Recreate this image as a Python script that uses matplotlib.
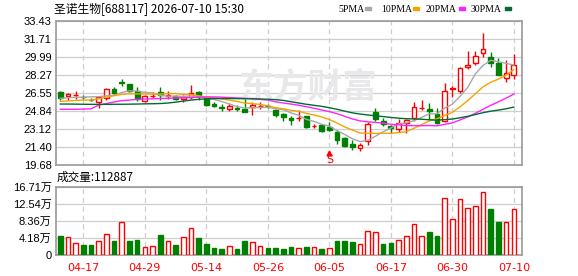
import matplotlib
matplotlib.use('Agg')
import matplotlib.pyplot as plt
from matplotlib.patches import Rectangle
import numpy as np

# ---- data ----
dates = ['04-14', '04-15', '04-16', '04-17', '04-20', '04-21', '04-22', '04-23', '04-24', '04-27',
         '04-28', '04-29', '04-30', '05-06', '05-07', '05-08', '05-11', '05-12', '05-13', '05-14',
         '05-15', '05-18', '05-19', '05-20', '05-21', '05-22', '05-25', '05-26', '05-27', '05-28',
         '05-29', '06-01', '06-02', '06-03', '06-04', '06-05', '06-08', '06-09', '06-10', '06-11',
         '06-12', '06-15', '06-16', '06-17', '06-18', '06-22', '06-23', '06-24', '06-25', '06-26',
         '06-29', '06-30', '07-01', '07-02', '07-03', '07-06', '07-07', '07-08', '07-09', '07-10']

opens = [26.68, 26.24, 26.35, 26.20, 25.92, 25.70, 26.05, 26.93, 27.63, 27.41,
         26.74, 25.79, 26.25, 26.65, 26.30, 26.30, 25.95, 26.20, 26.68, 26.05,
         25.50, 25.20, 25.05, 25.10, 25.05, 25.19, 25.30, 25.35, 24.93, 24.52,
         24.19, 24.15, 24.36, 23.40, 23.50, 23.34, 22.80, 22.23, 21.65, 21.30,
         21.97, 24.71, 23.88, 23.43, 23.15, 23.66, 24.14, 25.10, 25.02, 24.52,
         23.88, 26.95, 26.74, 29.00, 29.39, 30.35, 29.96, 29.45, 28.00, 28.24]
highs = [26.70, 26.60, 26.74, 26.35, 26.10, 26.30, 27.00, 27.10, 27.89, 27.45,
         27.10, 26.40, 26.68, 27.10, 26.74, 26.40, 26.40, 27.30, 26.75, 26.10,
         25.65, 25.47, 25.60, 25.40, 25.95, 25.70, 25.70, 25.50, 25.00, 24.60,
         24.40, 24.90, 24.40, 23.60, 23.55, 23.80, 23.00, 22.40, 22.05, 21.80,
         23.75, 25.15, 24.20, 23.50, 24.10, 24.10, 25.70, 25.90, 25.60, 25.10,
         27.50, 27.20, 29.00, 30.56, 30.56, 32.31, 30.50, 29.90, 29.70, 30.30]
lows = [25.85, 25.85, 25.95, 25.95, 25.75, 25.10, 25.90, 26.50, 27.22, 26.65,
        25.80, 25.70, 26.10, 25.90, 25.95, 25.90, 25.70, 26.00, 25.90, 25.35,
        25.20, 24.87, 24.80, 24.80, 24.70, 24.50, 25.00, 25.10, 24.30, 23.90,
        23.50, 23.90, 23.20, 23.20, 22.80, 22.95, 21.70, 21.40, 21.10, 21.00,
        21.60, 23.90, 23.45, 22.70, 22.80, 22.70, 23.90, 24.90, 23.97, 23.60,
        23.80, 26.20, 26.60, 28.82, 29.20, 30.02, 29.00, 28.24, 27.60, 27.90]
closes = [26.10, 26.46, 26.40, 26.15, 25.85, 26.14, 26.93, 26.58, 27.48, 26.74,
          25.98, 26.30, 26.30, 26.33, 26.35, 26.00, 26.14, 26.52, 26.27, 25.41,
          25.34, 25.15, 25.31, 25.05, 24.77, 25.44, 25.35, 25.30, 24.42, 24.29,
          23.94, 24.20, 23.34, 23.45, 22.92, 23.02, 22.06, 21.52, 21.40, 21.59,
          23.59, 24.07, 23.62, 23.18, 23.66, 23.97, 25.19, 25.15, 24.86, 23.66,
          26.74, 27.00, 28.91, 29.20, 30.09, 30.73, 29.45, 28.24, 28.43, 29.23]

ma5 = [26.05, 26.10, 26.15, 26.15, 26.19, 26.20, 26.29, 26.33, 26.60, 26.77,
       26.74, 26.62, 26.56, 26.33, 26.25, 26.26, 26.22, 26.27, 26.26, 26.07,
       25.94, 25.74, 25.50, 25.25, 25.12, 25.14, 25.18, 25.18, 25.06, 24.96,
       24.66, 24.43, 24.04, 23.84, 23.57, 23.39, 22.96, 22.59, 22.18, 21.92,
       22.03, 22.43, 22.85, 23.21, 23.62, 23.70, 23.92, 24.23, 24.57, 24.57,
       25.12, 25.48, 26.23, 27.10, 28.39, 29.19, 29.68, 29.54, 29.39, 29.22]
ma10 = [25.75, 25.80, 25.85, 25.88, 25.88, 26.00, 26.15, 26.30, 26.42, 26.48,
        26.47, 26.46, 26.45, 26.46, 26.51, 26.50, 26.42, 26.41, 26.29, 26.16,
        26.10, 25.98, 25.88, 25.75, 25.60, 25.54, 25.46, 25.34, 25.15, 25.04,
        24.90, 24.81, 24.61, 24.45, 24.27, 24.02, 23.69, 23.32, 23.01, 22.74,
        22.71, 22.70, 22.72, 22.70, 22.77, 22.87, 23.18, 23.54, 23.89, 24.10,
        24.41, 24.70, 25.23, 25.83, 26.48, 27.15, 27.58, 27.89, 28.25, 28.80]
ma20 = [25.00, 25.00, 25.00, 25.02, 25.05, 25.40, 25.55, 25.70, 25.82, 25.88,
        25.95, 25.98, 26.00, 26.03, 26.05, 26.08, 26.10, 26.12, 26.15, 26.18,
        26.18, 26.16, 26.12, 26.08, 26.05, 26.02, 25.94, 25.88, 25.72, 25.60,
        25.50, 25.39, 25.25, 25.10, 24.93, 24.78, 24.58, 24.33, 24.08, 23.89,
        23.81, 23.75, 23.67, 23.57, 23.52, 23.44, 23.44, 23.43, 23.45, 23.42,
        23.56, 23.70, 23.98, 24.27, 24.62, 25.01, 25.38, 25.72, 26.07, 26.45]
ma30 = [25.50, 25.50, 25.49, 25.48, 25.47, 25.47, 25.47, 25.48, 25.48, 25.49,
        25.50, 25.52, 25.53, 25.55, 25.60, 25.68, 25.78, 25.88, 25.95, 26.00,
        26.02, 26.03, 26.03, 26.02, 26.01, 26.00, 25.98, 25.96, 25.92, 25.85,
        25.72, 25.60, 25.48, 25.38, 25.28, 25.15, 25.00, 24.82, 24.66, 24.54,
        24.46, 24.38, 24.30, 24.22, 24.15, 24.10, 24.08, 24.05, 24.00, 23.96,
        24.01, 24.07, 24.19, 24.33, 24.50, 24.68, 24.82, 24.92, 25.05, 25.21]

volumes = [46500, 43200, 28500, 24500, 24500, 34200, 51300, 34200, 82300, 34200,
           36700, 18700, 22000, 48900, 34200, 24500, 43200, 65200, 41600, 26900,
           17100, 14700, 21200, 14700, 34200, 31800, 22000, 17100, 17100, 14700,
           19600, 16300, 18700, 18700, 13900, 16300, 34200, 34200, 31800, 26100,
           57900, 55400, 26900, 29300, 35900, 45600, 75000, 45600, 56200, 45600,
           141000, 89700, 138600, 116500, 121400, 155700, 114100, 82300, 82300, 112887]
vol_up = [0, 1, 1, 0, 0, 1, 1, 0, 1, 0, 0, 1, 1, 0, 1, 0, 1, 1, 0, 0,
          0, 0, 1, 0, 0, 1, 1, 0, 0, 0, 0, 1, 0, 1, 0, 1, 0, 0, 0, 1,
          1, 1, 0, 0, 1, 1, 1, 1, 0, 0, 1, 1, 1, 1, 1, 1, 0, 0, 1, 1]

price_ticks = [19.68, 21.40, 23.12, 24.84, 26.55, 28.27, 29.99, 31.71, 33.43]
vol_ticks = [0, 41783, 83565, 125348, 167130]
vol_labels = ['0', '4.18万', '8.36万', '12.54万', '16.71万']
tick_idx = [3, 11, 19, 27, 35, 43, 51, 59]
signal_idx = 35

RED = '#ff0000'
GREEN = '#008000'
GRID = '#cfcfcf'
FRAME = '#9a9a9a'
ma_colors = ['#a8a8a8', '#f5a300', '#ff22ff', '#006b30']
NUM_FONT = ['Liberation Sans', 'Noto Sans CJK SC']
CJK = ['Noto Sans CJK SC', 'DejaVu Sans']

W, H = 578, 276
fig = plt.figure(figsize=(W / 100, H / 100), dpi=100)
ax1 = fig.add_axes([56 / W, 1 - 165 / H, 466 / W, 144 / H])
ax2 = fig.add_axes([56 / W, 1 - 255 / H, 466 / W, 68 / H])

x = np.arange(len(closes))
xlim = (-0.56, 60.06)

for ax in (ax1, ax2):
    ax.set_xlim(*xlim)
    ax.set_xticks(tick_idx)
    for s in ax.spines.values():
        s.set_color(FRAME)
        s.set_linewidth(1.2)
    ax.grid(axis='y', color=GRID, lw=0.9, ls='-', zorder=0)
    ax.grid(axis='x', color=GRID, lw=0.9, ls=(0, (4, 3)), zorder=0)
    ax.set_axisbelow(True)
    ax.tick_params(length=0)

# ---- price panel ----
o = np.array(opens); c = np.array(closes)
h = np.array(highs); l = np.array(lows)
up = c >= o
ax1.vlines(x[up], l[up], h[up], color=RED, lw=1, zorder=2)
ax1.vlines(x[~up], l[~up], h[~up], color=GREEN, lw=1, zorder=2)
body_lo = np.minimum(o, c)
body_h = np.maximum(np.abs(c - o), 0.04)
ax1.bar(x[up], body_h[up], bottom=body_lo[up], width=0.62,
        facecolor='white', edgecolor=RED, lw=1, zorder=3)
ax1.bar(x[~up], body_h[~up], bottom=body_lo[~up], width=0.62,
        facecolor=GREEN, edgecolor=GREEN, lw=1, zorder=3)

for ma, col in zip([ma5, ma10, ma20, ma30], ma_colors):
    ax1.plot(x, ma, color=col, lw=1, zorder=4)

ax1.set_ylim(price_ticks[0], price_ticks[-1])
ax1.set_yticks(price_ticks)
ax1.set_yticklabels(['%.2f' % v for v in price_ticks], family=NUM_FONT, fontsize=8)
ax1.tick_params(axis='y', pad=3)
ax1.set_xticklabels([])

# watermark
ax1.text(0.542, 0.545, '东方财富', transform=ax1.transAxes, ha='center', va='center',
         fontsize=25, fontweight='bold', color='#e8e8eb', family=CJK, zorder=1)

# sell signal
ax1.plot(signal_idx, 20.82, marker='^', ms=3.5, color=RED, zorder=5, clip_on=False)
ax1.text(signal_idx, 20.15, 'S', color=RED, fontsize=8, ha='center', va='center',
         family='DejaVu Sans', zorder=5)

# ---- volume panel ----
v = np.array(volumes)
vu = np.array(vol_up, dtype=bool)
ax2.bar(x[vu], v[vu], width=0.6, facecolor='white', edgecolor=RED, lw=1, zorder=3)
ax2.bar(x[~vu], v[~vu], width=0.6, facecolor=GREEN, edgecolor=GREEN, lw=1, zorder=3)
ax2.set_ylim(0, vol_ticks[-1])
ax2.set_yticks(vol_ticks)
ax2.set_yticklabels(vol_labels, family=NUM_FONT, fontsize=8)
ax2.tick_params(axis='y', pad=3)
ax2.set_xticklabels([dates[i] for i in tick_idx], color=RED, fontsize=8,
                    family='DejaVu Sans')
ax2.tick_params(axis='x', pad=6)

# ---- header texts ----
fig.text(54 / W, 1 - 9.5 / H, '圣诺生物[688117] 2026-07-10 15:30', fontsize=8.5,
         family=CJK, va='center', ha='left')
fig.text(57 / W, 1 - 177 / H, '成交量:' + str(volumes[-1]), fontsize=8.4,
         family=CJK, va='center', ha='left')

legend_names = ['5PMA', '10PMA', '20PMA', '30PMA']
legend_x = [338, 381, 426, 471]
square_x = [365, 413, 459, 505]
for name, lx, sx, col in zip(legend_names, legend_x, square_x, ma_colors):
    fig.text(lx / W, 1 - 9 / H, name, fontsize=7, family='Liberation Serif',
             va='center', ha='left')
    fig.add_artist(Rectangle((sx / W, 1 - 9.5 / H), 5.5 / W, 2.5 / H,
                             transform=fig.transFigure, color=col))

fig.savefig('out.png', dpi=100)
